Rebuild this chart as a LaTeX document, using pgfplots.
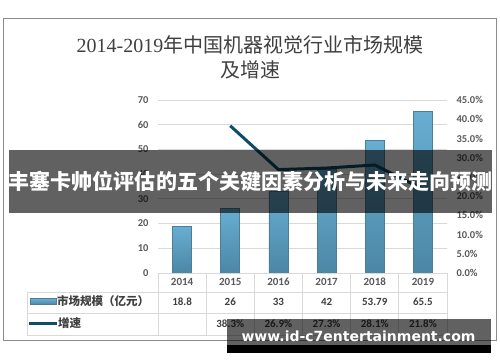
\documentclass[border=0pt]{standalone}
\usepackage{pgfplots}
\pgfplotsset{compat=1.18}
\usepackage{fontspec}
\setmainfont{Carlito}
\newfontfamily\cjk{Noto Sans CJK SC}
\newfontfamily\serifnum{Liberation Serif}
\newfontfamily\wm{DejaVu Sans}
\definecolor{tickc}{HTML}{595959}
\definecolor{gridc}{HTML}{D9D9D9}
\definecolor{framec}{HTML}{8C8C8C}
\definecolor{barc}{HTML}{5B9FC3}
\definecolor{bartop}{HTML}{68AED2}
\definecolor{barbot}{HTML}{4C86A5}
\definecolor{baredge}{HTML}{4A7E99}
\definecolor{linec}{HTML}{0E4C68}
\definecolor{titlec}{HTML}{404040}
\pgfplotsset{mybar/.style={ybar, bar width=19bp, bar shift=0pt, top color=bartop, bottom color=barbot, draw=baredge, line width=0.8bp}}
\begin{document}
\begin{tikzpicture}[x=1bp,y=1bp]
\path[use as bounding box] (0,0) rectangle (500,362);
\fill[white] (0,0) rectangle (500,362);
\draw[framec, line width=1bp] (3.5,22) rectangle (496.5,343);
\node[titlec, font=\fontsize{20bp}{24bp}\selectfont] at (250,317) {{\serifnum 2014-2019}{\cjk 年中国机器视觉行业市场规模}};
\node[titlec, font=\fontsize{20bp}{24bp}\selectfont\cjk] at (250,292) {及增速};
\begin{axis}[
  at={(158bp,89bp)}, anchor=south west, scale only axis,
  width=289bp, height=173bp,
  xmin=-0.5, xmax=5.5, ymin=0, ymax=70,
  ytick={0,10,...,70}, xtick=\empty,
  axis line style={draw=none}, major tick length=0pt,
  ymajorgrids, grid style={gridc, line width=0.8bp},
  tick label style={tickc, font=\fontsize{10.5bp}{12bp}\selectfont\bfseries},
  /pgf/number format/assume math mode=true,
  y tick label style={xshift=-6bp},
  clip=false,
]
\addplot[mybar] coordinates {(0,18.8)};
\addplot[mybar] coordinates {(1,26)};
\addplot[mybar] coordinates {(2,33)};
\addplot[mybar] coordinates {(3,42)};
\addplot[mybar] coordinates {(4,53.79)};
\addplot[mybar] coordinates {(5,65.5)};
\end{axis}
\begin{axis}[
  at={(158bp,89bp)}, anchor=south west, scale only axis,
  width=289bp, height=173bp,
  xmin=-0.5, xmax=5.5, ymin=0, ymax=45,
  axis y line*=right, hide x axis,
  axis line style={draw=none}, major tick length=0pt,
  ytick={0,5,...,45},
  yticklabels={0.0\%,5.0\%,10.0\%,15.0\%,20.0\%,25.0\%,30.0\%,35.0\%,40.0\%,45.0\%},
  tick label style={tickc, font=\fontsize{10.5bp}{12bp}\selectfont\bfseries},
  y tick label style={xshift=6bp},
  clip=false,
]
\addplot[linec, line width=3bp, line join=round, mark=none]
  coordinates {(1,38.3) (2,26.9) (3,27.3) (4,28.1) (5,21.8)};
\end{axis}
% data table
\begin{scope}[gridc, line width=0.8bp]
\draw (158,89) -- (447,89);
\draw (27,70) -- (447,70);
\draw (27,49) -- (447,49);
\draw (27,27) -- (447,27);
\draw (27,27) -- (27,70);
\foreach \k in {0,...,6} { \draw ({158+48.1667*\k},27) -- ({158+48.1667*\k},89); }
\end{scope}
\foreach \y [count=\i from 0] in {2014,2015,2016,2017,2018,2019} {
  \node[tickc, font=\fontsize{11bp}{13bp}\selectfont\bfseries] at ({158+48.1667*(\i+0.5)},80) {\y};
}
\foreach \v [count=\i from 0] in {18.8,26,33,42,53.79,65.5} {
  \node[titlec, font=\fontsize{11bp}{13bp}\selectfont\bfseries] at ({158+48.1667*(\i+0.5)},60) {\v};
}
\foreach \v [count=\i from 1] in {38.3\%,26.9\%,27.3\%,28.1\%,21.8\%} {
  \node[titlec, font=\fontsize{11bp}{13bp}\selectfont\bfseries] at ({158+48.1667*(\i+0.5)},38) {\v};
}
\fill[top color=bartop, bottom color=barbot, draw=baredge, line width=0.6bp] (30,57.5) rectangle (56,63.5);
\node[anchor=west, inner sep=0pt, titlec, font=\fontsize{11.5bp}{13bp}\selectfont\cjk\bfseries] at (57,60.5) {市场规模（亿元）};
\draw[linec, line width=2.5bp] (29,38.5) -- (57,38.5);
\node[anchor=west, inner sep=0pt, titlec, font=\fontsize{11.5bp}{13bp}\selectfont\cjk\bfseries] at (58,38.5) {增速};
% banner overlay
\fill[black, opacity=0.62] (9,149) rectangle (492,212);
\node[white, font=\fontsize{21bp}{24bp}\selectfont\cjk\bfseries] at (250.5,181) {丰塞卡帅位评估的五个关键因素分析与未来走向预测};
% watermark
\fill[black, opacity=0.62] (227,17) rectangle (491,43);
\fill[black] (227,9) rectangle (491,17);
\node[white, font=\fontsize{14bp}{16bp}\selectfont\wm\bfseries] at (358.5,26) {www.id-c7entertainment.com};
\end{tikzpicture}
\end{document}
